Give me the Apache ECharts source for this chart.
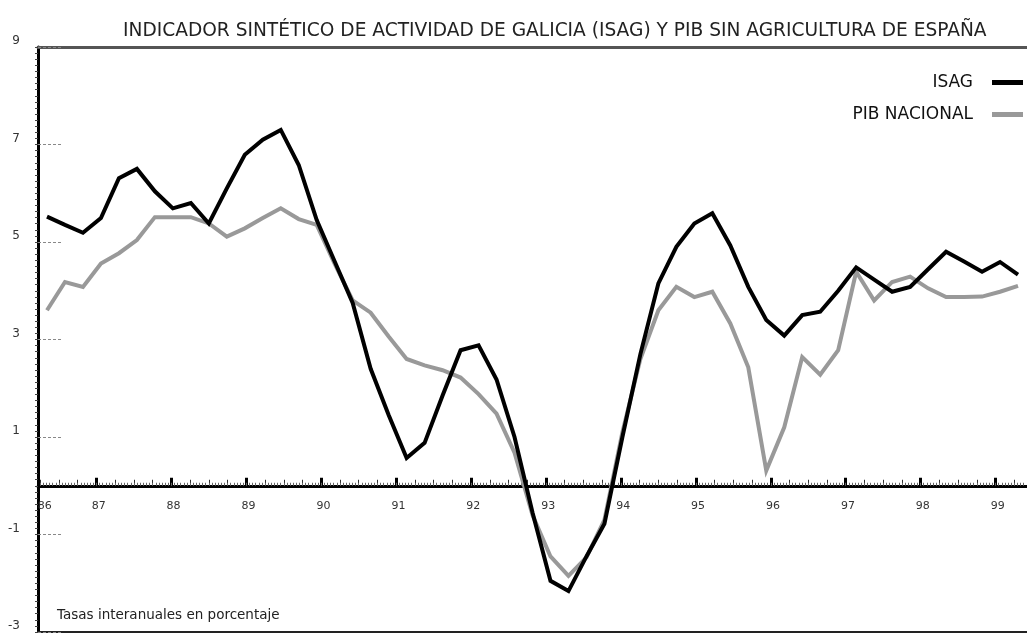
<!DOCTYPE html>
<html><head><meta charset="utf-8">
<script src="https://cdn.jsdelivr.net/npm/echarts@6/dist/echarts.min.js"></script>
<style>html,body{margin:0;padding:0;background:#fff}#c{width:1027px;height:633px}</style>
</head><body><div id="c"></div>
<script>
const TITLE = 'INDICADOR SINTÉTICO DE ACTIVIDAD DE GALICIA (ISAG) Y PIB SIN AGRICULTURA DE ESPAÑA';
const NOTE = 'Tasas interanuales en porcentaje';
const SERIES_NAMES = ['ISAG', 'PIB NACIONAL'];

// Quarterly values, 1986 Q1 .. 1999 Q3
const ISAG = [5.52, 5.35, 5.19, 5.49, 6.31, 6.50, 6.04, 5.69, 5.80, 5.38,
  6.10, 6.79, 7.10, 7.30, 6.58, 5.45, 4.60, 3.75, 2.40, 1.45,
  0.57, 0.88, 1.85, 2.78, 2.88, 2.18, 1.00, -0.55, -1.95, -2.16,
  -1.45, -0.78, 1.00, 2.70, 4.15, 4.90, 5.38, 5.59, 4.93, 4.08,
  3.40, 3.08, 3.50, 3.57, 4.00, 4.48, 4.23, 3.98, 4.08, 4.44,
  4.80, 4.60, 4.39, 4.59, 4.33];
const PIB = [3.60, 4.18, 4.08, 4.56, 4.77, 5.04, 5.51, 5.51, 5.51, 5.38,
  5.11, 5.28, 5.49, 5.69, 5.47, 5.35, 4.55, 3.80, 3.55, 3.06,
  2.60, 2.47, 2.37, 2.22, 1.88, 1.48, 0.68, -0.60, -1.45, -1.85,
  -1.47, -0.70, 1.10, 2.60, 3.60, 4.08, 3.87, 3.98, 3.33, 2.43,
  0.31, 1.20, 2.64, 2.28, 2.78, 4.39, 3.80, 4.18, 4.29, 4.05,
  3.87, 3.87, 3.88, 3.98, 4.10];
const QUARTERS = ISAG.map((_, i) => (86 + Math.floor(i / 4)) + '-T' + (i % 4 + 1));

const YEAR_TICKS = [87, 88, 89, 90, 91, 92, 93, 94, 95, 96, 97, 98, 99];
const YEAR_LABELS = ['86', '87', '88', '89', '90', '91', '92', '93', '94', '95', '96', '97', '98', '99'];
const YEAR_LABEL_POS = [86.31, 87.03, 88.03, 89.03, 90.03, 91.03, 92.03, 93.03, 94.03, 95.03, 96.03, 97.03, 98.03, 99.03];
const Y_TICKS = [-3, -1, 1, 3, 5, 7, 9];

const X_MIN = 86.22, X_MAX = 99.42;
const Y_MIN = -3, Y_MAX = 9;
const GRID = { left: 38, right: 0, top: 47, bottom: 1 };
const CHART_H = 633;
// distance (px) from the grid's bottom edge up to the value-0 line, for axes drawn along zero
const plotH = CHART_H - GRID.top - GRID.bottom;
const ZERO_OFFSET = -plotH * (0 - Y_MIN) / (Y_MAX - Y_MIN);

const QUARTER_TICKS = [];
for (let y = 86; y <= 99; y++) for (let q = 1; q <= 3; q++) {
  const v = y + q / 4; if (v > X_MIN && v < X_MAX) QUARTER_TICKS.push(v);
}
const HATCH_TICKS = [];
for (let k = 0; ; k++) { const v = 86.25 + k / 24; if (v >= X_MAX) break; HATCH_TICKS.push(v); }

const FONT = 'DejaVu Sans';
const chart = echarts.init(document.getElementById('c'), null, { renderer: 'canvas' });
const yearAxisBase = { type: 'value', min: X_MIN, max: X_MAX, gridIndex: 0, splitLine: { show: false } };

chart.setOption({
  backgroundColor: '#fff',
  animation: false,
  title: [
    { text: TITLE, left: 123, top: 22, padding: 0,
      textStyle: { fontFamily: FONT, fontSize: 18.6, fontWeight: 'normal', color: '#222' } },
    { text: NOTE, left: 57, top: 608, padding: 0,
      textStyle: { fontFamily: FONT, fontSize: 13.5, fontWeight: 'normal', color: '#222' } }
  ],
  legend: {
    data: [{ name: SERIES_NAMES[0], icon: 'rect' }, { name: SERIES_NAMES[1], icon: 'rect' }],
    orient: 'vertical', right: 4, top: 74, align: 'right', padding: 0,
    itemWidth: 31, itemHeight: 5, itemGap: 15,
    textStyle: { fontFamily: FONT, fontSize: 17, color: '#111', padding: [0, 14, 0, 0] }
  },
  grid: Object.assign({ containLabel: false, outerBoundsMode: 'none' }, GRID),
  xAxis: [
    { type: 'category', data: QUARTERS, boundaryGap: true, show: false, position: 'bottom' },
    Object.assign({}, yearAxisBase, {
      position: 'bottom', offset: ZERO_OFFSET,
      axisLine: { show: true, onZero: false, lineStyle: { color: '#000', width: 3 } },
      axisTick: { show: true, customValues: YEAR_TICKS, inside: true, length: 8, lineStyle: { color: '#000', width: 3 } },
      axisLabel: { show: true, customValues: YEAR_LABEL_POS, margin: 15, fontFamily: FONT, fontSize: 11, color: '#333',
        formatter: v => YEAR_LABELS[YEAR_LABEL_POS.findIndex(p => Math.abs(p - v) < 1e-6)] }
    }),
    Object.assign({}, yearAxisBase, {
      position: 'bottom', offset: ZERO_OFFSET,
      axisLine: { show: false, onZero: false },
      axisTick: { show: true, customValues: QUARTER_TICKS, inside: true, length: 6, lineStyle: { color: '#333', width: 1 } },
      axisLabel: { show: false }
    }),
    Object.assign({}, yearAxisBase, {
      position: 'bottom', offset: ZERO_OFFSET,
      axisLine: { show: false, onZero: false },
      axisTick: { show: true, customValues: HATCH_TICKS, inside: true, length: 3, lineStyle: { color: '#666', width: 1 } },
      axisLabel: { show: false }
    }),
    Object.assign({}, yearAxisBase, {
      position: 'top',
      axisLine: { show: true, onZero: false, lineStyle: { color: '#555', width: 3, type: [2, 1] } },
      axisTick: { show: false }, axisLabel: { show: false }
    }),
    Object.assign({}, yearAxisBase, {
      position: 'bottom',
      axisLine: { show: true, onZero: false, lineStyle: { color: '#222', width: 2 } },
      axisTick: { show: false }, axisLabel: { show: false }
    })
  ],
  yAxis: [
    { type: 'value', min: Y_MIN, max: Y_MAX, position: 'left',
      axisLine: { show: true, onZero: false, lineStyle: { color: '#000', width: 3 } },
      axisTick: { show: true, customValues: Y_TICKS, inside: true, length: 24, lineStyle: { color: '#888', width: 1, type: [3, 2] } },
      axisLabel: { show: true, customValues: Y_TICKS, margin: 18, fontFamily: FONT, fontSize: 12, color: '#333', verticalAlign: 'bottom' },
      splitLine: { show: false } },
    { type: 'value', min: Y_MIN, max: Y_MAX, interval: 0.125, position: 'left',
      axisLine: { show: false, onZero: false },
      axisTick: { show: true, inside: false, length: 3, lineStyle: { color: '#444', width: 1 } },
      axisLabel: { show: false }, splitLine: { show: false } }
  ],
  series: [
    { name: SERIES_NAMES[1], type: 'line', data: PIB, xAxisIndex: 0, yAxisIndex: 0, symbol: 'none', z: 2,
      lineStyle: { color: '#999', width: 4, join: 'miter' }, itemStyle: { color: '#999' } },
    { name: SERIES_NAMES[0], type: 'line', data: ISAG, xAxisIndex: 0, yAxisIndex: 0, symbol: 'none', z: 3,
      lineStyle: { color: '#000', width: 4, join: 'miter' }, itemStyle: { color: '#000' } }
  ]
});
</script></body></html>
